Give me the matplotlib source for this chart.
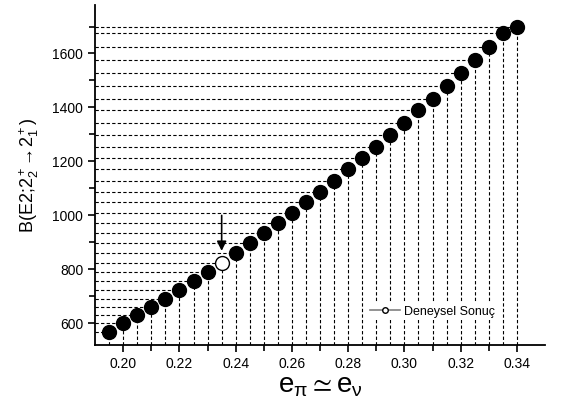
import numpy as np
import matplotlib
matplotlib.use("Agg")
import matplotlib.pyplot as plt
from matplotlib.lines import Line2D

plt.rcParams['font.family'] = ['Liberation Sans', 'DejaVu Sans']
plt.rcParams['mathtext.fontset'] = 'custom'
plt.rcParams['mathtext.rm'] = 'Liberation Sans'
plt.rcParams['mathtext.it'] = 'Liberation Sans'
plt.rcParams['mathtext.fallback'] = 'stixsans'

# hesaplanan degerler
e_vals = [0.195, 0.200, 0.205, 0.210, 0.215, 0.220, 0.225, 0.230, 0.235, 0.240,
          0.245, 0.250, 0.255, 0.260, 0.265, 0.270, 0.275, 0.280, 0.285, 0.290,
          0.295, 0.300, 0.305, 0.310, 0.315, 0.320, 0.325, 0.330, 0.335, 0.340]
b_vals = [569, 600, 630, 660, 691, 722, 755, 789, 824, 861,
          896, 934, 971, 1008, 1049, 1088, 1127, 1170, 1213, 1255,
          1299, 1343, 1389, 1432, 1480, 1528, 1576, 1625, 1675, 1700]

# deneysel sonuc
exp_e = [0.235]
exp_b = [824]

x_lo, x_hi = 0.19, 0.35
y_lo, y_hi = 520, 1780

fig = plt.figure(figsize=(5.63, 4.11), dpi=100)
ax = fig.add_axes([0.169, 0.161, 0.799, 0.827])

# kesikli yardimci cizgiler
for e, b in zip(e_vals, b_vals):
    ax.plot([x_lo, e], [b, b], color='black', lw=0.8, ls=(0, (3, 2)), zorder=1)
    ax.plot([e, e], [y_lo, b], color='black', lw=0.8, ls=(0, (3, 2)), zorder=1)

calc_e = [e for e in e_vals if e not in exp_e]
calc_b = [b for e, b in zip(e_vals, b_vals) if e not in exp_e]
ax.plot(calc_e, calc_b, 'o', color='black', markersize=10, zorder=3)
ax.plot(exp_e, exp_b, 'o', markerfacecolor='white', markeredgecolor='black',
        markeredgewidth=1.0, markersize=10, zorder=3)

ax.annotate('', xy=(0.235, 858), xytext=(0.235, 1010),
            arrowprops=dict(arrowstyle='-|>', color='black', lw=1.2,
                            mutation_scale=14), zorder=4)

handle = Line2D([], [], color='gray', lw=1.2, marker='o', markersize=4,
                markerfacecolor='white', markeredgecolor='black')
leg = ax.legend([handle], ['Deneysel Sonuç'], loc='center',
                bbox_to_anchor=(0.75, 0.097), frameon=True, fontsize=9,
                handlelength=2.4, handletextpad=0.3, borderpad=0.2)
leg.get_frame().set_edgecolor('none')
leg.get_frame().set_facecolor('white')
leg.get_frame().set_alpha(1)

ax.set_xlim(x_lo, x_hi)
ax.set_ylim(y_lo, y_hi)
ax.set_xticks(np.arange(0.20, 0.341, 0.02))
ax.set_xticks(np.arange(0.21, 0.35, 0.02), minor=True)
ax.set_yticks(np.arange(600, 1601, 200))
ax.set_yticks(np.arange(700, 1800, 200), minor=True)
ax.xaxis.set_major_formatter(plt.FormatStrFormatter('%.2f'))

for s in ['top', 'right']:
    ax.spines[s].set_visible(False)
ax.spines['left'].set_linewidth(1.3)
ax.spines['bottom'].set_linewidth(1.3)
ax.tick_params(which='both', direction='out', width=1.2, labelsize=10)
ax.tick_params(which='major', length=5)
ax.tick_params(which='minor', length=4)

ax.set_xlabel(r'$\mathrm{e}_\pi \simeq \mathrm{e}_\nu$', fontsize=20, labelpad=2)
ax.set_ylabel(r'B(E2;2$_2^+$$\!\rightarrow\!$2$_1^+$)', fontsize=13, labelpad=8)

fig.savefig('out.png', dpi=100)
